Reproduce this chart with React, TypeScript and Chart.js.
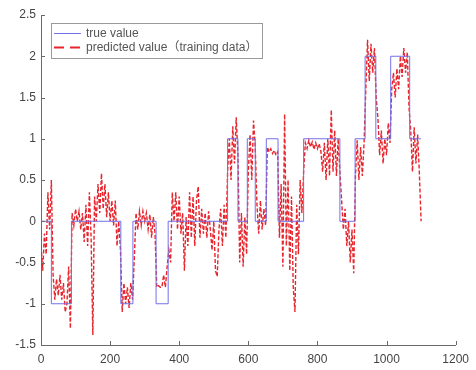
import React, { useEffect, useRef } from "react";
import { Chart, registerables } from "chart.js";

Chart.register(...registerables);

// True value: step function (start x of each level, level value)
const trueX = [0, 30, 88, 231, 266, 333, 368, 540, 570, 597, 620, 652, 686, 760, 865, 909, 938, 969, 1012, 1067, 1100];
const trueY = [0, -1, 0, -1, 0, -1, 0, 1, 0, 1, 0, 1, 0, 1, 0, 1, 2, 1, 2, 1, 1];

// Predicted value sampled every 5 units from x = 0 to 1100 (10 values per row = 50 units)
const predStep = 5;
const predY = [
  -0.3, -0.6, -0.15, -0.4, 0.35, -0.1, 0.5, -0.65, -0.95, -0.7, // 0
  -0.9, -0.65, -0.95, -0.75, -1.1, -1.0, -0.55, -1.3, 0.1, -0.05, // 50
  0.15, 0.0, 0.12, -0.1, 0.1, -0.25, 0.2, -0.3, 0.35, -0.2, // 100
  -1.38, 0.3, 0.0, 0.45, 0.1, 0.58, 0.15, 0.45, 0.05, 0.35, // 150
  0.0, 0.25, -0.05, 0.25, -0.3, 0.0, -0.35, -1.1, -0.75, -1.0, // 200
  -0.8, -1.05, -0.75, -0.95, -0.45, 0.1, -0.1, 0.12, -0.05, 0.12, // 250
  0.0, 0.1, -0.1, 0.08, -0.2, 0.05, -0.15, -0.8, -0.78, -0.8, // 300
  -0.8, -0.65, -0.8, -0.55, -0.35, -0.5, 0.35, 0.0, 0.35, -0.1, // 350
  0.3, -0.15, 0.1, -0.6, 0.05, -0.3, 0.35, -0.2, 0.3, -0.3, // 400
  0.25, 0.42, -0.2, 0.15, -0.15, 0.1, -0.2, 0.12, -0.1, -0.35, // 450
  0.0, -0.6, -0.67, -0.1, 0.15, -0.3, 0.2, -0.2, 0.6, 1.0, // 500
  0.5, 1.15, 0.7, 1.26, 0.8, -0.5, 0.1, -0.55, 0.05, -0.4, // 550
  0.6, 1.05, 0.5, 1.22, 0.9, 0.2, -0.15, 0.25, -0.1, 0.15, // 600
  -0.05, 0.9, 0.84, 0.88, 0.82, 0.86, 0.8, 0.84, -0.2, 0.45, // 650
  -0.55, 1.3, -0.3, 0.5, -0.6, 0.3, -0.8, -1.1, 0.2, -0.4, // 700
  0.5, 0.1, 0.6, 0.95, 0.88, 0.98, 0.9, 0.96, 0.87, 0.95, // 750
  0.88, 0.94, 0.85, 0.6, 0.95, 0.5, 1.0, 0.55, 1.35, 0.6, // 800
  1.1, 0.55, 1.0, 0.6, 0.25, -0.1, 0.15, -0.3, 0.0, -0.5, // 850
  -0.1, -0.63, 0.55, 0.98, 0.5, 0.9, 0.55, 0.95, 1.6, 2.2, // 900
  1.7, 2.15, 1.8, 2.1, 1.5, 1.25, 0.8, 1.1, 0.7, 1.0, // 950
  0.8, 1.19, 0.95, 1.6, 1.8, 1.5, 1.85, 1.6, 2.0, 1.75, // 1000
  2.1, 1.8, 2.05, 1.38, 1.1, 0.6, 1.14, 0.7, 1.05, 0.58, // 1050
  0.0, // 1100
];

const xTicks = [0, 200, 400, 600, 800, 1000, 1200];
const yTicks = [-1.5, -1, -0.5, 0, 0.5, 1, 1.5, 2, 2.5];

const trueLabel = "true value";
const predLabel = "predicted value（training data）";

const BLUE = "#7070ea";
const RED = "#e8242c";
const AXIS = "#6a6a6a";
const TEXT = "#444444";
const FONT = "'Liberation Sans', 'Noto Sans CJK SC', Arial, sans-serif";

const inwardTicks = {
  id: "inwardTicks",
  afterDraw(chart: any) {
    const ctx = chart.ctx;
    const xs = chart.scales.x;
    const ys = chart.scales.y;
    const area = chart.chartArea;
    ctx.save();
    ctx.strokeStyle = AXIS;
    ctx.lineWidth = 1;
    ctx.beginPath();
    for (const v of xTicks) {
      const px = Math.round(xs.getPixelForValue(v)) + 0.5;
      ctx.moveTo(px, area.bottom);
      ctx.lineTo(px, area.bottom - 4);
    }
    for (const v of yTicks) {
      const py = Math.round(ys.getPixelForValue(v)) + 0.5;
      ctx.moveTo(area.left, py);
      ctx.lineTo(area.left + 4, py);
    }
    ctx.stroke();
    ctx.restore();
  },
};

const boxLegend = {
  id: "boxLegend",
  afterDraw(chart: any) {
    const ctx = chart.ctx;
    const area = chart.chartArea;
    const x0 = area.left + 10;
    const y0 = area.top + 8;
    const w = 211;
    const h = 35;
    ctx.save();
    ctx.fillStyle = "#ffffff";
    ctx.fillRect(x0, y0, w, h);
    ctx.strokeStyle = "#9a9a9a";
    ctx.lineWidth = 1;
    ctx.strokeRect(x0 + 0.5, y0 + 0.5, w, h);

    const items = chart.data.datasets;
    const rows = [y0 + 10, y0 + 24];
    items.forEach((ds: any, i: number) => {
      const yy = rows[i] + 0.5;
      ctx.beginPath();
      ctx.strokeStyle = ds.borderColor;
      ctx.lineWidth = i === 0 ? 1 : 2;
      ctx.setLineDash(i === 0 ? [] : [10, 6]);
      ctx.moveTo(x0 + 3, yy);
      ctx.lineTo(x0 + 30, yy);
      ctx.stroke();
      ctx.setLineDash([]);
      ctx.fillStyle = "#555555";
      ctx.font = `12px ${FONT}`;
      ctx.textBaseline = "middle";
      ctx.textAlign = "left";
      ctx.fillText(ds.label, x0 + 35, yy);
    });
    ctx.restore();
  },
};

export default function App() {
  const canvasRef = useRef<HTMLCanvasElement | null>(null);

  useEffect(() => {
    if (!canvasRef.current) return;
    const trueData = trueX.map((x, i) => ({ x, y: trueY[i] }));
    const predData = predY.map((y, i) => ({ x: i * predStep, y }));

    const chart = new Chart(canvasRef.current, {
      type: "line",
      data: {
        datasets: [
          {
            label: trueLabel,
            data: trueData,
            borderColor: BLUE,
            borderWidth: 1,
            pointRadius: 0,
            stepped: true,
            fill: false,
          },
          {
            label: predLabel,
            data: predData,
            borderColor: RED,
            borderWidth: 1.4,
            borderDash: [4, 2],
            pointRadius: 0,
            tension: 0,
            fill: false,
          },
        ],
      },
      options: {
        animation: false,
        responsive: false,
        maintainAspectRatio: false,
        layout: { padding: { left: 0, right: 16, top: 15, bottom: 0 } },
        plugins: {
          legend: { display: false },
          tooltip: { enabled: false },
        },
        scales: {
          x: {
            type: "linear",
            min: 0,
            max: 1200,
            afterBuildTicks: (scale: any) => {
              scale.ticks = xTicks.map((v) => ({ value: v }));
            },
            afterFit: (scale: any) => {
              scale.height = 25;
            },
            grid: { display: false, drawTicks: false },
            border: { display: true, color: AXIS, width: 1 },
            ticks: {
              padding: 7,
              color: TEXT,
              font: { family: FONT, size: 12 },
              maxRotation: 0,
              callback: (v: any) => String(v),
            },
          },
          y: {
            type: "linear",
            min: -1.5,
            max: 2.5,
            afterBuildTicks: (scale: any) => {
              scale.ticks = yTicks.map((v) => ({ value: v }));
            },
            afterFit: (scale: any) => {
              scale.width = 41;
            },
            grid: { display: false, drawTicks: false },
            border: { display: true, color: AXIS, width: 1 },
            ticks: {
              padding: 5,
              color: TEXT,
              font: { family: FONT, size: 12 },
              callback: (v: any) => String(v),
            },
          },
        },
      },
      plugins: [inwardTicks, boxLegend],
    });
    return () => chart.destroy();
  }, []);

  return (
    <div style={{ position: "fixed", left: 0, top: 0, width: 476, height: 370, background: "#fff" }}>
      <canvas ref={canvasRef} width={476} height={370} style={{ width: 476, height: 370, display: "block" }} />
    </div>
  );
}
